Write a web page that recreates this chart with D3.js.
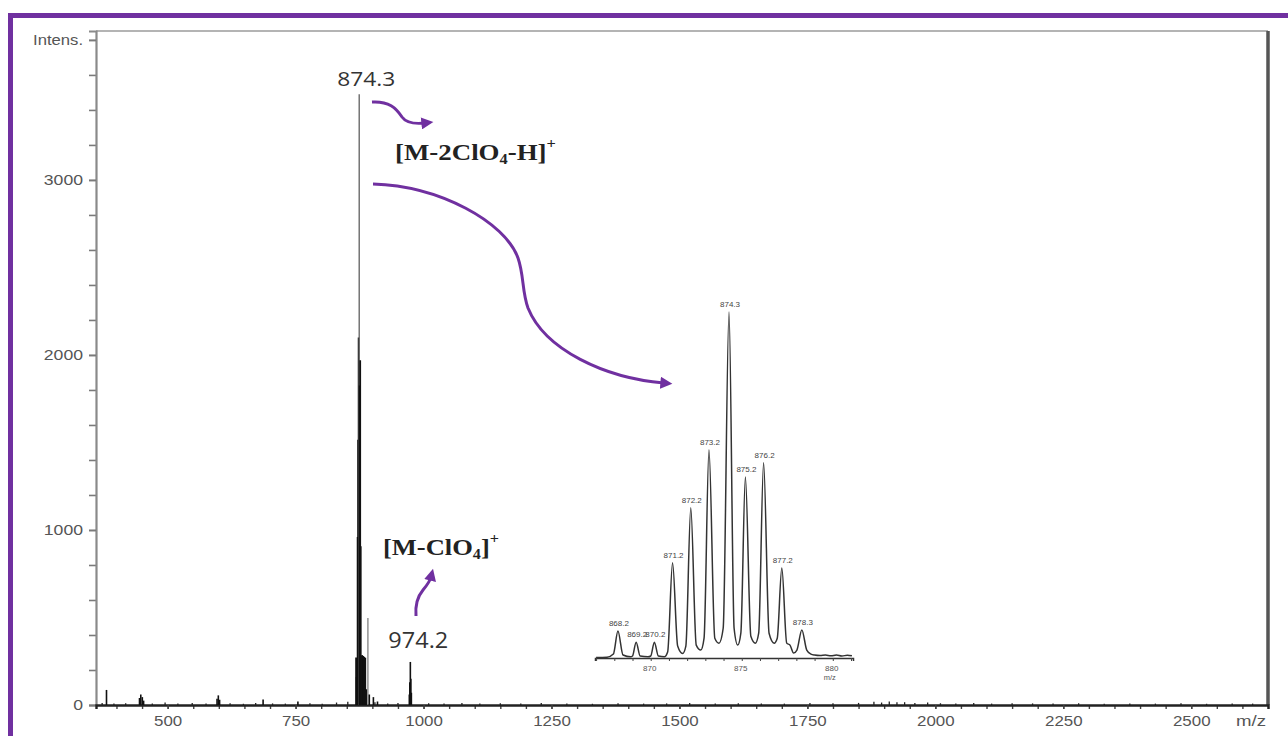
<!DOCTYPE html>
<html>
<head>
<meta charset="utf-8">
<script src="https://cdn.jsdelivr.net/npm/d3@7"></script>
<style>
  html, body { margin: 0; padding: 0; background: #fff; }
  svg { display: block; }
</style>
</head>
<body>
<svg id="chart" width="1288" height="736"></svg>
<script>
// ---- Isotope cluster of the [M-2ClO4-H]+ ion (m/z, intensity) ----
const isoMz  = [868.2, 869.2, 870.2, 871.2, 872.2, 873.2, 874.3, 875.2, 876.2, 877.2, 878.3];
const isoInt = [272, 160, 160, 960, 1515, 2100, 3490, 1825, 1970, 907, 283];

// ---- Other peaks of the full-range spectrum [m/z, intensity] ----
const otherPeaks = [
  [380.5, 86], [445, 40], [447.5, 60], [450.5, 45], [453, 25],
  [596.5, 35], [599, 55], [601.5, 30], [686.5, 32], [754.5, 20],
  [880.3, 285], [882.3, 280], [884.3, 275], [886.3, 270], [888.3, 90],
  [891.3, 497], [894, 60], [902, 45], [910, 20],
  [972.2, 60], [973.2, 130], [974.2, 246], [975.2, 150], [976.2, 70]
];

// ---- Baseline noise [m/z, intensity] ----
const noisePeaks = [
  [372, 12], [395, 8], [418, 10], [470, 9], [495, 14], [520, 8], [548, 11], [575, 9],
  [622, 10], [648, 7], [672, 12], [705, 9], [730, 8], [778, 10], [802, 7], [830, 14],
  [852, 18], [905, 16], [930, 9], [950, 12], [1010, 10], [1040, 8], [1075, 12], [1110, 9],
  [1150, 10], [1190, 8], [1230, 11], [1280, 9], [1330, 7], [1380, 10], [1430, 8], [1475, 9],
  [1520, 11], [1570, 8], [1615, 10], [1660, 9], [1705, 8], [1755, 11], [1800, 10], [1850, 12],
  [1880, 18], [1895, 14], [1910, 20], [1925, 15], [1940, 16], [1960, 12], [1985, 14], [2010, 10],
  [2040, 9], [2075, 12], [2110, 8], [2150, 10], [2190, 9], [2230, 8], [2280, 10], [2330, 7],
  [2380, 9], [2430, 8], [2480, 10], [2530, 7], [2580, 9], [2620, 8]
];

// ---- Expanded profile trace of the isotope cluster ----
const profileMz = [
  867.0, 867.6, 867.95, 868.2, 868.48, 868.9, 869.0, 869.2, 869.42, 869.85, 870.0, 870.2, 870.42,
  870.75, 870.93, 871.2, 871.48, 871.75, 871.93, 872.2, 872.5, 872.75, 872.93, 873.2, 873.52,
  873.75, 873.98, 874.3, 874.58, 874.78, 874.95, 875.2, 875.5, 875.75, 875.93, 876.2, 876.5,
  876.78, 876.95, 877.2, 877.47, 877.65, 877.85, 878.03, 878.3, 878.57, 878.8, 879.0, 879.3,
  879.6, 879.9, 880.2, 880.5, 880.8, 881.05
];
const profileInt = [
  5, 8, 40, 272, 30, 12, 20, 160, 20, 12, 20, 160, 20,
  12, 60, 960, 120, 45, 120, 1515, 130, 80, 200, 2100, 200,
  150, 300, 3490, 300, 130, 250, 1825, 220, 150, 250, 1970, 250,
  150, 200, 907, 150, 130, 50, 80, 283, 80, 40, 30, 25,
  30, 22, 30, 20, 28, 22
];

// ---- Axis ticks ----
const yTicks = [0, 1000, 2000, 3000, 3800];
const yTickLabels = ["0", "1000", "2000", "3000", "Intens."];
const xTicks = [500, 750, 1000, 1250, 1500, 1750, 2000, 2250, 2500];
const insetTicks = [870, 875, 880];

const purple = "#7030A0";
const svg = d3.select("#chart");

// outer purple frame
svg.append("rect")
  .attr("x", 10.5).attr("y", 15.5).attr("width", 1300).attr("height", 760)
  .attr("fill", "#fff").attr("stroke", purple).attr("stroke-width", 5);

// ---- Main scales ----
const x = d3.scaleLinear().domain([360, 2650]).range([96, 1268]);
const y = d3.scaleLinear().domain([0, 3851]).range([705, 31]);

// plot box: top (light), right (dark)
svg.append("line").attr("x1", 96).attr("x2", 1268).attr("y1", 31).attr("y2", 31)
  .attr("stroke", "#b4b4b4").attr("stroke-width", 2);
svg.append("line").attr("x1", 1268).attr("x2", 1268).attr("y1", 31).attr("y2", 705)
  .attr("stroke", "#555").attr("stroke-width", 3.5);

// Y axis: minor then major
const yMinor = svg.append("g").attr("transform", "translate(96,0)")
  .call(d3.axisLeft(y).tickValues(d3.range(0, 3801, 200)).tickSize(7).tickFormat(""));
yMinor.select(".domain").remove();
yMinor.selectAll("line").attr("stroke", "#7a7a7a").attr("stroke-width", 1.6);

const yAxis = svg.append("g").attr("transform", "translate(96,0)")
  .call(d3.axisLeft(y).tickValues(yTicks).tickSize(7).tickPadding(6)
    .tickFormat((d, i) => yTickLabels[i]));
yAxis.select(".domain").attr("stroke", "#8a8a8a").attr("stroke-width", 2.2);
yAxis.selectAll("line").attr("stroke", "#7a7a7a").attr("stroke-width", 1.6);
yAxis.selectAll("text")
  .attr("font-family", "Liberation Sans, Arial, sans-serif")
  .attr("font-size", 15).attr("fill", "#555")
  .attr("textLength", d => (d === 3800 ? 50 : String(d).length * 9.8))
  .attr("lengthAdjust", "spacingAndGlyphs");

// X axis: minor then major
const xMinor = svg.append("g").attr("transform", "translate(0,705)")
  .call(d3.axisBottom(x).tickValues(d3.range(400, 2651, 50)).tickSize(4).tickFormat(""));
xMinor.select(".domain").remove();
xMinor.selectAll("line").attr("stroke", "#444").attr("stroke-width", 1.4);

const xAxis = svg.append("g").attr("transform", "translate(0,705)")
  .call(d3.axisBottom(x).tickValues(xTicks).tickSize(4).tickPadding(6).tickFormat(d3.format("d")));
xAxis.select(".domain").attr("stroke", "#222").attr("stroke-width", 2.4);
xAxis.selectAll("line").attr("stroke", "#444").attr("stroke-width", 1.4);
xAxis.selectAll("text")
  .attr("font-family", "Liberation Sans, Arial, sans-serif")
  .attr("font-size", 15).attr("fill", "#555")
  .attr("textLength", d => String(d).length * 9.4)
  .attr("lengthAdjust", "spacingAndGlyphs");

svg.append("text").attr("x", 1251).attr("y", 725.5).attr("text-anchor", "middle")
  .attr("font-family", "Liberation Sans, Arial, sans-serif").attr("font-size", 15)
  .attr("fill", "#555").attr("textLength", 30).attr("lengthAdjust", "spacingAndGlyphs")
  .text("m/z");

// ---- Spectrum sticks ----
const sticks = svg.append("g");
sticks.selectAll("line.noise").data(noisePeaks).join("line").attr("class", "noise")
  .attr("x1", d => x(d[0])).attr("x2", d => x(d[0]))
  .attr("y1", y(0)).attr("y2", d => y(d[1]))
  .attr("stroke", "#222").attr("stroke-width", 1.3);
sticks.selectAll("line.other").data(otherPeaks).join("line").attr("class", "other")
  .attr("x1", d => x(d[0])).attr("x2", d => x(d[0]))
  .attr("y1", y(0)).attr("y2", d => y(d[1]))
  .attr("stroke", d => d[1] > 400 ? "#777" : "#111").attr("stroke-width", d => d[1] > 400 ? 1.2 : 1.6);
sticks.selectAll("line.iso").data(isoMz.map((m, i) => [m, isoInt[i]])).join("line").attr("class", "iso")
  .attr("x1", d => x(d[0])).attr("x2", d => x(d[0]))
  .attr("y1", y(0)).attr("y2", d => y(d[1]))
  .attr("stroke", d => d[1] > 3000 ? "#6a6a6a" : "#111")
  .attr("stroke-width", d => d[1] > 3000 ? 1.4 : 1.8);

// ---- Inset: expanded isotope pattern ----
const xi = d3.scaleLinear().domain([866.94, 881.11]).range([595, 853]);
const yi = d3.scaleLinear().domain([0, 3490]).range([658, 312]);

const inset = svg.append("g");
const iAxis = inset.append("g").attr("transform", "translate(0,658)")
  .call(d3.axisBottom(xi).tickValues(d3.range(867, 882, 1)).tickSize(3).tickFormat(""));
iAxis.select(".domain").attr("stroke", "#333").attr("stroke-width", 1.5);
iAxis.selectAll("line").attr("stroke", "#444").attr("stroke-width", 1);
inset.selectAll("text.itick").data(insetTicks).join("text").attr("class", "itick")
  .attr("x", d => xi(d) - 1).attr("y", 670.5).attr("text-anchor", "middle")
  .attr("font-family", "Liberation Sans, Arial, sans-serif").attr("font-size", 8)
  .attr("fill", "#555").text(d => d);
inset.append("text").attr("x", xi(880) - 3).attr("y", 679.5).attr("text-anchor", "middle")
  .attr("font-family", "Liberation Sans, Arial, sans-serif").attr("font-size", 7.5)
  .attr("fill", "#555").text("m/z");

const profile = profileMz.map((m, i) => [m, profileInt[i]]);
inset.append("path").datum(profile)
  .attr("d", d3.line().x(d => xi(d[0])).y(d => yi(d[1])).curve(d3.curveMonotoneX))
  .attr("fill", "none").attr("stroke", "#333").attr("stroke-width", 1.5);

inset.selectAll("text.plab").data(isoMz.map((m, i) => [m, isoInt[i]])).join("text").attr("class", "plab")
  .attr("x", d => xi(d[0]) + 1).attr("y", d => yi(d[1]) - 5).attr("text-anchor", "middle")
  .attr("font-family", "Liberation Sans, Arial, sans-serif").attr("font-size", 8)
  .attr("fill", "#444").text(d => d[0].toFixed(1));

// ---- Annotations ----
function stretchTo(sel, width, ax) {
  const bb = sel.node().getBBox();
  const k = width / bb.width;
  sel.attr("transform", `translate(${ax},0) scale(${k},1) translate(${-ax},0)`);
}

const mainPeak = 874.3, secondPeak = 974.2;
const lab1 = svg.append("text").attr("x", x(mainPeak) + 7).attr("y", 86.5)
  .attr("text-anchor", "middle").attr("font-family", "Open Sans, sans-serif")
  .attr("font-size", 20).attr("fill", "#333").text(mainPeak.toFixed(1));
stretchTo(lab1, 58, x(mainPeak) + 7);

const lab2 = svg.append("text").attr("x", x(secondPeak) + 8).attr("y", 648)
  .attr("text-anchor", "middle").attr("font-family", "Open Sans, sans-serif")
  .attr("font-size", 21).attr("fill", "#333").text(secondPeak.toFixed(1));
stretchTo(lab2, 60, x(secondPeak) + 8);

function ionLabel(x0, y0, parts, width) {
  const t = svg.append("text").attr("x", x0).attr("y", y0)
    .attr("font-family", "Liberation Serif, Times New Roman, serif")
    .attr("font-weight", "bold").attr("font-size", 23).attr("fill", "#222");
  parts.forEach(p => {
    const s = t.append("tspan").text(p.t);
    if (p.sub) s.attr("font-size", 14).attr("dy", 4);
    if (p.sup) s.attr("font-size", 14).attr("dy", -12);
    if (p.back) s.attr("dy", p.back);
  });
  stretchTo(t, width, x0);
}
ionLabel(395, 160, [
  { t: "[M-2ClO" }, { t: "4", sub: true }, { t: "-H]", back: -4 }, { t: "+", sup: true }
], 161);
ionLabel(383, 555, [
  { t: "[M-ClO" }, { t: "4", sub: true }, { t: "]", back: -4 }, { t: "+", sup: true }
], 116);

// curved purple arrows
const defs = svg.append("defs");
defs.append("marker").attr("id", "arrowhead")
  .attr("viewBox", "0 0 10 10").attr("refX", 3).attr("refY", 5)
  .attr("markerWidth", 4.2).attr("markerHeight", 4).attr("orient", "auto")
  .append("path").attr("d", "M0,0L10,5L0,10z").attr("fill", purple);

const arrows = [
  "M372,102 C389,101 396,108 402,117 C407,124 416,124 425,123",
  "M373,184 C440,186 505,222 518,258 C524,275 522,292 528,308 C545,350 605,378 664,383",
  "M416,616 C415,604 418,596 423,590 C428,584 430,581 431,577"
];
svg.append("g").selectAll("path").data(arrows).join("path")
  .attr("d", d => d).attr("fill", "none").attr("stroke", purple)
  .attr("stroke-width", 3).attr("marker-end", "url(#arrowhead)");
</script>
</body>
</html>
